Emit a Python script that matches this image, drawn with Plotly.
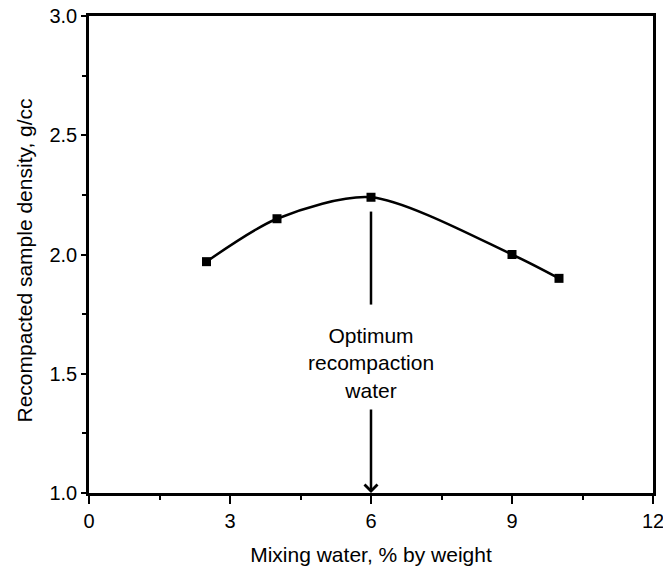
import plotly.graph_objects as go

water = [2.5, 4.0, 6.0, 9.0, 10.0]
density = [1.97, 2.15, 2.24, 2.00, 1.90]

x_ticks = [0, 3, 6, 9, 12]
y_ticks = [1.0, 1.5, 2.0, 2.5, 3.0]
y_tick_labels = ["1.0", "1.5", "2.0", "2.5", "3.0"]

optimum_x = 6.0
upper_line = [2.18, 1.79]
lower_arrow = [1.356, 1.0]
label_y = 1.545
label_text = "Optimum<br>recompaction<br>water"
y_title = "Recompacted sample density, g/cc"
x_title = "Mixing water, % by weight"

family = "Liberation Sans, Arial, sans-serif"
tick_font = dict(family=family, size=20, color="black")
title_font = dict(family=family, size=21, color="black")

fig = go.Figure()
fig.add_trace(go.Scatter(
    x=water, y=density, mode="lines+markers",
    line=dict(color="black", width=2.5, shape="spline", smoothing=0.8),
    marker=dict(symbol="square", size=9, color="black"),
    showlegend=False, hoverinfo="skip",
))

fig.add_shape(type="line", x0=optimum_x, x1=optimum_x, y0=upper_line[0], y1=upper_line[1],
              xref="x", yref="y", line=dict(color="black", width=2.5))
fig.add_annotation(x=optimum_x, y=lower_arrow[1], ax=optimum_x, ay=lower_arrow[0],
                   xref="x", yref="y", axref="x", ayref="y", text="",
                   showarrow=True, arrowhead=4, arrowsize=1, arrowwidth=2.5, arrowcolor="black")
fig.add_annotation(x=optimum_x, y=label_y, xref="x", yref="y", text=label_text,
                   showarrow=False, font=title_font, align="center")
fig.add_annotation(x=0, y=0.5, xref="paper", yref="paper", text=y_title,
                   textangle=-90, showarrow=False, font=title_font,
                   xanchor="center", yanchor="middle", xshift=-65, yshift=-6)

fig.update_xaxes(
    range=[0, 12], tickvals=x_ticks, ticktext=[str(v) for v in x_ticks],
    ticks="outside", ticklen=8, tickwidth=2, tickcolor="black",
    minor=dict(dtick=1.5, ticks="outside", ticklen=4, tickwidth=2, tickcolor="black"),
    showline=True, linewidth=2.5, linecolor="black", mirror=True,
    showgrid=False, zeroline=False, tickfont=tick_font, automargin=False,
    ticklabeloverflow="allow",
    title=dict(text=x_title, font=title_font, standoff=17),
)
fig.update_yaxes(
    range=[1.0, 3.0], tickvals=y_ticks, ticktext=y_tick_labels,
    ticks="outside", ticklen=5, tickwidth=2, tickcolor="black",
    minor=dict(dtick=0.25, ticks="outside", ticklen=4, tickwidth=2, tickcolor="black"),
    showline=True, linewidth=2.5, linecolor="black", mirror=True,
    showgrid=False, zeroline=False, tickfont=tick_font, automargin=False,
    ticklabeloverflow="allow",
)
fig.update_layout(
    width=663, height=569,
    margin=dict(l=89, r=10, t=16, b=76, autoexpand=False),
    plot_bgcolor="white", paper_bgcolor="white",
    font=tick_font,
)
fig.write_html("out.html", config={"displayModeBar": False},
               post_script="document.body.style.margin='0px';")
